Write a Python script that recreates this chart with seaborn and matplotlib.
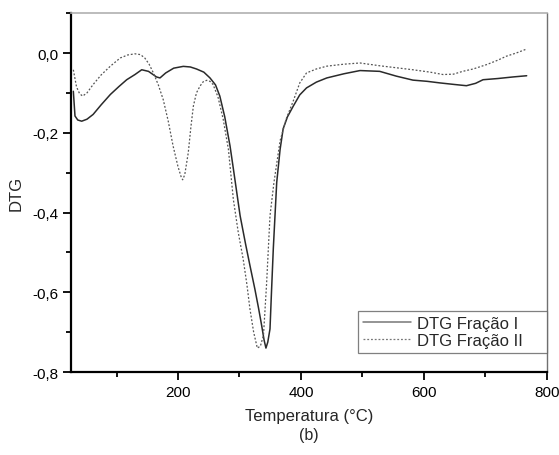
import numpy as np
import pandas as pd
import matplotlib
matplotlib.use("Agg")
import matplotlib.pyplot as plt
import seaborn as sns
from matplotlib.ticker import FuncFormatter, MultipleLocator

# DTG Fração I (solid)
temp_1 = [29.8, 32.5, 37, 43.4, 52, 62, 75, 90, 104, 116.6, 130, 141, 152, 165, 170.7,
          180, 193, 208.6, 220, 230, 242, 252, 261, 268, 276, 284.6, 290, 301, 310, 317,
          325, 331, 336, 340, 343, 346, 349.6, 352, 355, 358, 360.5, 366, 371, 378,
          387.5, 398, 409, 425, 442, 470, 496, 528, 555, 582, 605, 626, 650, 669, 684,
          696, 720, 745, 767]
dtg_1 = [-0.096, -0.158, -0.168, -0.171, -0.166, -0.154, -0.13, -0.104, -0.084, -0.067, -0.054, -0.042, -0.046, -0.06, -0.0625,
         -0.05, -0.038, -0.0335, -0.035, -0.04, -0.048, -0.0625, -0.08, -0.108, -0.16, -0.233, -0.29, -0.408, -0.48, -0.533,
         -0.592, -0.64, -0.683, -0.72, -0.74, -0.725, -0.692, -0.6, -0.49, -0.4, -0.325, -0.242, -0.19, -0.16,
         -0.133, -0.105, -0.0875, -0.073, -0.0625, -0.052, -0.044, -0.046, -0.058, -0.068, -0.071, -0.075, -0.079, -0.082, -0.076,
         -0.067, -0.064, -0.06, -0.057]

# DTG Fração II (dotted)
temp_2 = [29.8, 35, 40, 45, 52, 62, 75, 90, 106, 118, 130, 139, 146, 153, 160, 168,
          176, 184, 192, 200, 205, 207.6, 211, 216.7, 221, 225, 230, 235.8, 241, 246.7,
          252, 257, 265, 273.6, 282, 290, 298, 306, 312, 317, 323, 329, 334, 339,
          344, 349.6, 356, 366, 376, 387.5, 398, 409, 425, 442, 470, 496, 528, 555,
          582, 610, 631, 648, 663, 680, 702, 720, 734, 750, 767]
dtg_2 = [-0.042, -0.085, -0.102, -0.108, -0.1, -0.079, -0.055, -0.033, -0.0125, -0.005, -0.002, -0.004, -0.0125, -0.028, -0.05, -0.08,
         -0.117, -0.17, -0.233, -0.285, -0.31, -0.318, -0.305, -0.25, -0.185, -0.133, -0.1, -0.083, -0.072, -0.0685,
         -0.071, -0.079, -0.11, -0.167, -0.242, -0.367, -0.45, -0.517, -0.58, -0.642, -0.7, -0.74, -0.735, -0.708,
         -0.58, -0.408, -0.325, -0.22, -0.165, -0.12, -0.075, -0.05, -0.04, -0.033, -0.028, -0.025, -0.032, -0.037,
         -0.042, -0.048, -0.054, -0.053, -0.046, -0.04, -0.029, -0.018, -0.008, 0.0, 0.01]

sns.set_theme(style="white")
plt.rcParams['font.family'] = ['Liberation Sans', 'DejaVu Sans']

fig = plt.figure(figsize=(5.59, 4.56), dpi=100)
ax = fig.add_axes([0.127, 0.182, 0.8515, 0.787])

sns.lineplot(x=temp_1, y=dtg_1, ax=ax, sort=False, estimator=None,
             color="#2a2a2a", linewidth=1.1, label="DTG Fração I")
sns.lineplot(x=temp_2, y=dtg_2, ax=ax, sort=False, estimator=None,
             color="#555555", linewidth=0.9, linestyle=(0, (1.5, 1.5)),
             label="DTG Fração II")

ax.set_xlim(26, 800)
ax.set_ylim(-0.8, 0.1)
ax.xaxis.set_major_locator(MultipleLocator(200))
ax.xaxis.set_minor_locator(MultipleLocator(100))
ax.yaxis.set_major_locator(MultipleLocator(0.2))
ax.yaxis.set_minor_locator(MultipleLocator(0.1))
ax.yaxis.set_major_formatter(FuncFormatter(lambda v, p: f"{v:.1f}".replace(".", ",").replace("-0,0", "0,0")))

ax.tick_params(which="major", direction="out", length=6, width=1.3, colors="black",
               labelsize=11, left=True, bottom=True, pad=3)
ax.tick_params(which="minor", direction="out", length=3.5, width=1.3, colors="black",
               left=True, bottom=True)

for s in ["left", "bottom"]:
    ax.spines[s].set_color("black")
    ax.spines[s].set_linewidth(1.6)
ax.spines["top"].set_color("#b0b0b0")
ax.spines["top"].set_linewidth(1.2)
ax.spines["right"].set_color("#707070")
ax.spines["right"].set_linewidth(1.0)

ax.set_xlabel("Temperatura (°C)", fontsize=12, labelpad=7)
ax.set_ylabel("DTG", fontsize=12, labelpad=6)

leg = ax.legend(loc="lower left", bbox_to_anchor=(0.603, 0.053, 0.397, 0.125),
                mode="expand", fontsize=12, frameon=True, fancybox=False,
                borderpad=0.3, handlelength=2.9, labelspacing=0.1,
                handletextpad=0.35, borderaxespad=0)
leg.get_frame().set_edgecolor("#606060")
leg.get_frame().set_linewidth(0.9)
for h in leg.get_lines():
    h.set_color("#777777")

fig.text(0.553, 0.046, "(b)", ha="center", va="center", fontsize=11.5)

fig.savefig("out.png", dpi=100)
